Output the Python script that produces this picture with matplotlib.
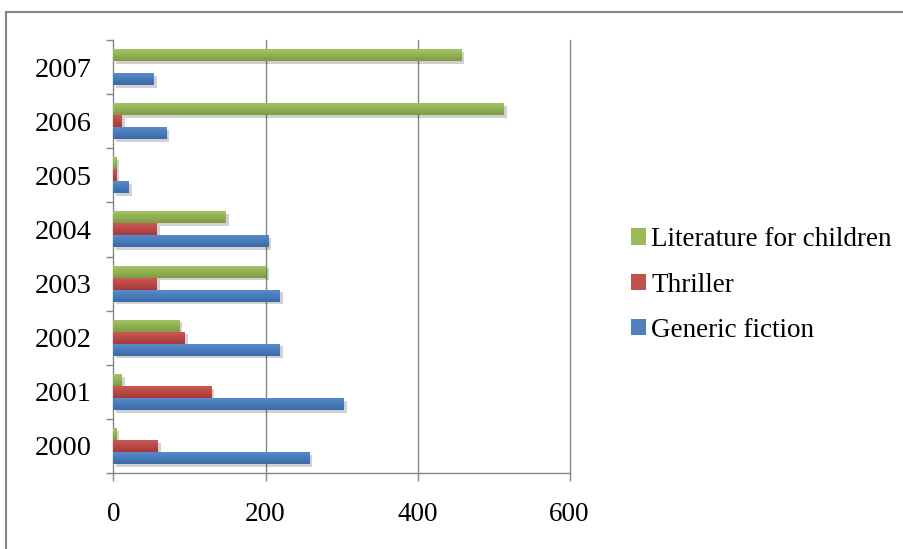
import matplotlib
matplotlib.use("Agg")
import matplotlib.pyplot as plt
import numpy as np
from matplotlib.patches import Patch
from matplotlib.colors import LinearSegmentedColormap
import matplotlib.patheffects as pe
from matplotlib.lines import Line2D

years = ["2000", "2001", "2002", "2003", "2004", "2005", "2006", "2007"]
generic_fiction = [258, 303, 219, 219, 204, 21, 70, 53]
thriller = [59, 129, 94, 57, 57, 4, 11, 0]
literature_children = [4, 11, 87, 201, 148, 4, 514, 458]

series_names = ["Generic fiction", "Thriller", "Literature for children"]
x_ticks = [0, 200, 400, 600]

colors_top = ["#5a8fd0", "#cf5a56", "#a6c766"]
colors_bot = ["#3a69a6", "#a53a37", "#7f9c45"]
legend_colors = ["#4F81BD", "#C0504D", "#9BBB59"]

plt.rcParams["font.family"] = ["Liberation Serif", "DejaVu Serif"]

fig = plt.figure(figsize=(9.04, 5.49), dpi=100)
W, H = 904, 549
ax = fig.add_axes([113.5 / W, 1 - 473 / H, (569.5 - 113.5) / W, (473 - 40) / H])

n = len(years)
idx = np.arange(n)
bar_h = 0.222
offsets = [-bar_h, 0.0, bar_h]
all_series = [generic_fiction, thriller, literature_children]

for s, (vals, off) in enumerate(zip(all_series, offsets)):
    cmap = LinearSegmentedColormap.from_list(f"g{s}", [colors_top[s], colors_bot[s]])
    bars = ax.barh(idx + off, vals, height=bar_h, color=legend_colors[s],
                   edgecolor="none", zorder=3)
    for b in bars:
        if b.get_width() <= 0:
            b.set_visible(False)
            continue
        b.set_path_effects([pe.SimplePatchShadow(offset=(2, -2), shadow_rgbFace="#000000",
                                                 alpha=0.18), pe.Normal()])
        x0, y0 = b.get_x(), b.get_y()
        w, h = b.get_width(), b.get_height()
        grad = np.linspace(0, 1, 64).reshape(-1, 1)
        im = ax.imshow(grad, cmap=cmap, aspect="auto", origin="upper",
                       extent=[x0, x0 + w, y0, y0 + h], zorder=4,
                       interpolation="bilinear")
        im.set_clip_path(b)

ax.set_xlim(0, 600)
ax.set_ylim(-0.5, n - 0.5)

grid_col = "#868686"
for xv in x_ticks[1:]:
    ax.axvline(xv, color=grid_col, lw=1.0, zorder=1, clip_on=False)

for side in ["top", "right"]:
    ax.spines[side].set_visible(False)
ax.spines["left"].set_color(grid_col)
ax.spines["bottom"].set_color(grid_col)
ax.spines["left"].set_linewidth(1.0)
ax.spines["bottom"].set_linewidth(1.0)

ax.set_xticks(x_ticks)
ax.set_xticklabels([str(v) for v in x_ticks])
ax.tick_params(axis="x", direction="out", length=6, color=grid_col, width=1.0,
               labelsize=19.5, pad=15)

ax.set_yticks(idx)
ax.set_yticklabels(years)
ax.set_yticks(np.arange(-0.5, n, 1.0), minor=True)
ax.tick_params(axis="y", which="major", length=0, labelsize=20.5, pad=16)
ax.tick_params(axis="y", which="minor", direction="out", length=5, color=grid_col, width=1.0)

handles = [Patch(facecolor=legend_colors[i], edgecolor="none") for i in (2, 1, 0)]
labels = [series_names[i] for i in (2, 1, 0)]
fig.legend(handles, labels, loc="center left", bbox_to_anchor=(631 / W, 1 - 285 / H),
           frameon=False, fontsize=19.5, handlelength=0.55, handleheight=0.55,
           handletextpad=0.2, labelspacing=0.75, borderaxespad=0, borderpad=0)

# outer chart frame (left and top edges)
fig.add_artist(Line2D([6 / W, 6 / W], [0, 1 - 12 / H], transform=fig.transFigure,
                      color=grid_col, lw=1.5))
fig.add_artist(Line2D([6 / W, 1], [1 - 12 / H, 1 - 12 / H], transform=fig.transFigure,
                      color=grid_col, lw=1.5))

fig.savefig("out.png", dpi=100, facecolor="white")
